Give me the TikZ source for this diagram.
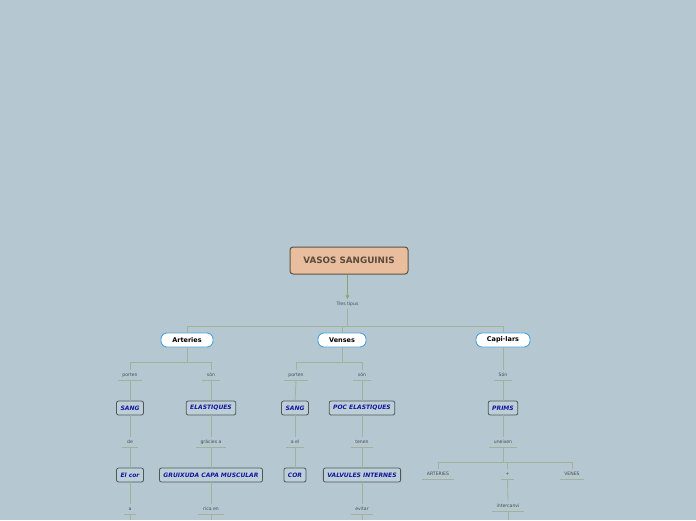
\documentclass[tikz,border=0pt]{standalone}
\usepackage{fontspec}
\setmainfont{DejaVu Sans}
\usepackage{tikz}
\usetikzlibrary{arrows.meta, positioning, calc}
\definecolor{bgcol}{HTML}{B5C8D1}
\definecolor{rootfill}{HTML}{E8BE9E}
\definecolor{rootdraw}{HTML}{5C5346}
\definecolor{roottext}{HTML}{5A4A3C}
\definecolor{typedraw}{HTML}{4AA3DF}
\definecolor{leafdraw}{HTML}{50565A}
\definecolor{leaffill}{HTML}{BCCED6}
\definecolor{leaftext}{HTML}{1414A0}
\definecolor{linkcol}{HTML}{A2B29A}
\definecolor{arrowcol}{HTML}{8E9F72}
\definecolor{lbltext}{HTML}{474B4E}

\begin{document}
\begin{tikzpicture}[x=1pt, y=1pt,
  root/.style={
    draw=rootdraw, fill=rootfill, rounded corners=3pt, line width=1pt,
    minimum width=118pt, minimum height=27pt,
    font=\fontsize{8.8}{10}\selectfont\bfseries, text=roottext
  },
  kind/.style={
    draw=typedraw, fill=white, rounded corners=6pt, line width=0.9pt,
    minimum height=14pt, inner xsep=0pt,
    font=\fontsize{6.5}{8}\selectfont\bfseries, text=black
  },
  leaf/.style={
    draw=leafdraw, fill=leaffill, rounded corners=2pt, line width=0.8pt,
    minimum height=14pt, inner xsep=4pt, inner ysep=0pt,
    font=\fontsize{6}{7}\selectfont\bfseries\itshape, text=leaftext
  },
  lnk/.style={
    minimum height=10pt, inner xsep=4.5pt, inner ysep=0pt,
    font=\fontsize{4.6}{5.5}\selectfont, text=lbltext
  },
  conn/.style={linkcol, line width=0.9pt},
  uline/.style={linkcol, line width=0.8pt},
  arr/.style={-{Stealth[length=4pt, width=4pt]}, arrowcol, line width=0.9pt}
]

% background and page size
\fill[bgcol] (0,0) rectangle (696,-520);
\useasboundingbox (0,0) rectangle (696,-520);

% ============ ROOT ============
\node[root] (vasos) at (349,-260.5) {VASOS SANGUINIS};
\node[lnk] (tres) at (347.5,-304) {Tres tipus};
\draw[arr] (vasos.south -| tres.north) -- (tres.north);

% ============ THREE KINDS ============
\node[kind, minimum width=52pt] (art) at (187,-340) {Arteries};
\node[kind, minimum width=48pt] (ven) at (342,-340) {Venses};
\node[kind, minimum width=54pt] (cap) at (503,-340) {Capi·lars};

\foreach \k in {art,ven,cap}{
  \draw[conn] (tres.south) -- ++(0,-17) -| (\k.north);
}

% ============ ARTERIES branch ============
\node[lnk] (aport) at (130,-375) {porten};
\node[lnk] (ason) at (211,-375) {són};
\node[leaf] (asang) at (130,-408) {SANG};
\node[leaf] (aelas) at (211,-408) {ELASTIQUES};
\node[lnk] (ade) at (130,-442) {de};
\node[lnk] (agra) at (211,-442) {gràcies a};
\node[leaf] (acor) at (130,-475) {El cor};
\node[leaf] (amus) at (211,-475) {GRUIXUDA CAPA MUSCULAR};
\node[lnk] (aa) at (130,-509) {a};
\node[lnk] (arica) at (211,-509) {rica en};

\draw[conn] (art.south) -- ++(0,-15) -| (aport.north);
\draw[conn] (art.south) -- ++(0,-15) -| (ason.north);
\draw[conn] (aport.south) -- (asang.north);
\draw[conn] (ason.south) -- (aelas.north);
\draw[conn] (asang.south) -- (ade.north);
\draw[conn] (aelas.south) -- (agra.north);
\draw[conn] (ade.south) -- (acor.north);
\draw[conn] (agra.south) -- (amus.north);
\draw[conn] (acor.south) -- (aa.north);
\draw[conn] (amus.south) -- (arica.north);

% ============ VENSES branch ============
\node[lnk] (vport) at (296,-375) {porten};
\node[lnk] (vson) at (362,-375) {són};
\node[leaf] (vsang) at (295,-408) {SANG};
\node[leaf] (vpoc) at (362,-408) {POC ELASTIQUES};
\node[lnk] (vael) at (295,-442) {a el};
\node[lnk] (vten) at (362,-442) {tenen};
\node[leaf] (vcor) at (295,-475) {COR};
\node[leaf] (vval) at (362,-475) {VALVULES INTERNES};
\node[lnk] (vevi) at (362,-509) {evitar};

\draw[conn] (ven.south) -- ++(0,-15) -| (vport.north);
\draw[conn] (ven.south) -- ++(0,-15) -| (vson.north);
\draw[conn] (vport.south) -- (vsang.north);
\draw[conn] (vson.south) -- (vpoc.north);
\draw[conn] (vsang.south) -- (vael.north);
\draw[conn] (vpoc.south) -- (vten.north);
\draw[conn] (vael.south) -- (vcor.north);
\draw[conn] (vten.south) -- (vval.north);
\draw[conn] (vval.south) -- (vevi.north);

% ============ CAPI-LARS branch ============
\node[lnk] (cson) at (503,-375) {Són};
\node[leaf] (cprim) at (503,-408) {PRIMS};
\node[lnk] (cune) at (503,-442) {uneixen};
\node[lnk] (cart) at (438,-474) {ARTERIES};
\node[lnk] (cmes) at (507.5,-474) {+};
\node[lnk] (cven) at (572,-474) {VENES};
\node[lnk] (cint) at (508,-506) {intercanvi};

\draw[conn] (cap.south) -- (cson.north);
\draw[conn] (cson.south) -- (cprim.north);
\draw[conn] (cprim.south) -- (cune.north);
\foreach \c in {cart,cmes,cven}{
  \draw[conn] (cune.south) -- ++(0,-15) -| (\c.north);
}
\draw[conn] (cmes.south) -- (cint.north);

% cut off at the bottom edge
\foreach \n in {aa,arica,vevi,cint}{
  \coordinate (\n end) at (\n.south |- 0,-520);
  \draw[conn] (\n.south) -- (\n end);
}

% underlines of the linking words
\foreach \n in {aport,ason,ade,agra,aa,arica,vport,vson,vael,vten,vevi,
                cson,cune,cart,cmes,cven,cint}{
  \draw[uline] (\n.south west) -- (\n.south east);
}

\end{tikzpicture}
\end{document}
